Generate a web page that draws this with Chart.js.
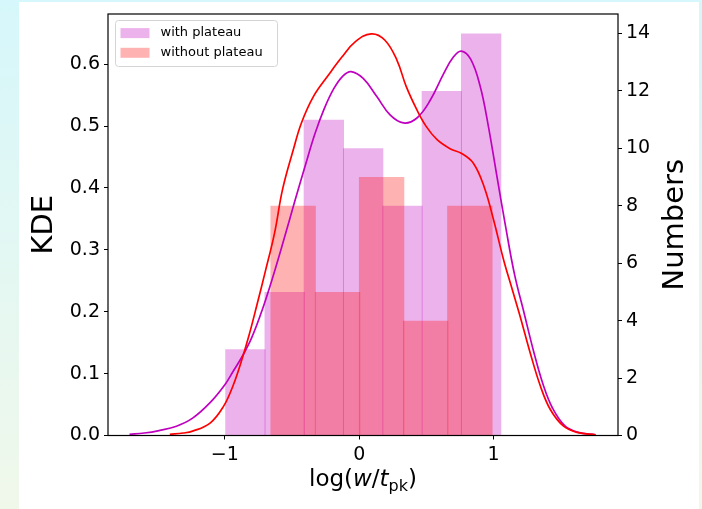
<!DOCTYPE html>
<html lang="en">
<head>
    <meta charset="UTF-8">
    <title>KDE of log(w/t_pk)</title>
    <script src="https://cdn.jsdelivr.net/npm/chart.js@4.4.1/dist/chart.umd.min.js"></script>
    <style>
        html, body {
            margin: 0;
            padding: 0;
        }

        body {
            width: 702px;
            height: 509px;
            overflow: hidden;
            position: relative;
            background: linear-gradient(to bottom, #d6f7fb, #f0f8ea);
        }

        .chart-box {
            position: absolute;
            left: 19px;
            top: 2px;
            width: 680px;
            height: 507px;
            background: #ffffff;
        }
    </style>
</head>
<body>
    <div class="chart-box">
        <canvas id="kdeChart"></canvas>
    </div>

    <script>
        // histogram bins (bin edges in log(w/t_pk), counts on the right axis)
        const withEdges = [-0.994, -0.700, -0.409, -0.117, 0.176, 0.469, 0.762, 1.054];
        const withCounts = [3, 5, 11, 10, 8, 12, 14];
        const withoutEdges = [-0.658, -0.325, 0.003, 0.331, 0.659, 0.989];
        const withoutCounts = [8, 5, 9, 4, 8];

        // KDE curves (left axis)
        const kdeWithX = [-1.71, -1.60, -1.49, -1.36, -1.24, -1.11, -1.00, -0.94, -0.87, -0.80,
            -0.72, -0.64, -0.56, -0.48, -0.40, -0.33, -0.26, -0.19, -0.12, -0.06,
            0.03, 0.13, 0.23, 0.33, 0.43, 0.53, 0.63, 0.70, 0.76, 0.83,
            0.90, 0.96, 1.03, 1.09, 1.155, 1.23, 1.30, 1.37, 1.44, 1.53,
            1.63, 1.76];
        const kdeWithY = [0.002, 0.004, 0.008, 0.015, 0.028, 0.053, 0.082, 0.103, 0.128, 0.158,
            0.204, 0.258, 0.317, 0.378, 0.437, 0.487, 0.528, 0.560, 0.581, 0.588,
            0.577, 0.548, 0.518, 0.505, 0.513, 0.542, 0.585, 0.611, 0.621, 0.608,
            0.565, 0.502, 0.413, 0.338, 0.262, 0.196, 0.135, 0.082, 0.044, 0.016,
            0.005, 0.001];

        const kdeWithoutX = [-1.41, -1.31, -1.24, -1.11, -1.01, -0.94, -0.88, -0.82, -0.76, -0.70,
            -0.63, -0.57, -0.49, -0.43, -0.34, -0.23, -0.13, -0.03, 0.09, 0.19,
            0.28, 0.35, 0.43, 0.50, 0.58, 0.68, 0.76, 0.85, 0.93, 1.00,
            1.075, 1.137, 1.199, 1.274, 1.349, 1.423, 1.522, 1.622, 1.76];
        const kdeWithoutY = [0.002, 0.004, 0.007, 0.020, 0.047, 0.080, 0.118, 0.162, 0.212, 0.264,
            0.327, 0.398, 0.462, 0.505, 0.548, 0.582, 0.611, 0.636, 0.649, 0.639,
            0.607, 0.564, 0.526, 0.499, 0.478, 0.463, 0.456, 0.440, 0.402, 0.349,
            0.284, 0.238, 0.192, 0.133, 0.080, 0.042, 0.015, 0.005, 0.001];

        function binsToBars(edges, counts) {
            return counts.map((c, i) => ({ x: (edges[i] + edges[i + 1]) / 2, y: c }));
        }

        function toPoints(xs, ys) {
            return xs.map((x, i) => ({ x: x, y: ys[i] }));
        }

        Chart.defaults.font.family = "'DejaVu Sans', sans-serif";
        Chart.defaults.color = '#000';

        const tickFont = { size: 19 };
        const tickGrid = {
            display: true,
            drawOnChartArea: false,
            drawTicks: true,
            tickLength: 4,
            offset: false,
            color: '#000',
            lineWidth: 1
        };

        // keep the plot box where the reference has it
        function fixWidth(w) {
            return s => {
                s.width = w;
                s.paddingTop = 0;
                s.paddingBottom = 0;
            };
        }

        // frame, legend box and the two custom axis labels
        const figureExtras = {
            id: 'figureExtras',
            afterDatasetsDraw(chart) {
                const { ctx, chartArea: a } = chart;
                ctx.save();
                ctx.strokeStyle = '#000';
                ctx.lineWidth = 1.2;
                ctx.strokeRect(a.left, a.top, a.right - a.left, a.bottom - a.top);

                const bars = chart.data.datasets.filter(d => d.type === 'bar');
                const bx = a.left + 7.5, by = a.top + 6.5;
                ctx.beginPath();
                ctx.roundRect(bx, by, 162, 46, 3);
                ctx.fillStyle = 'rgba(255, 255, 255, 0.8)';
                ctx.fill();
                ctx.strokeStyle = '#d4d4d4';
                ctx.lineWidth = 1;
                ctx.stroke();

                ctx.font = "13px 'DejaVu Sans'";
                ctx.textAlign = 'left';
                ctx.textBaseline = 'middle';
                bars.forEach((d, i) => {
                    const cy = by + 12.6 + i * 19.7;
                    ctx.fillStyle = d.backgroundColor;
                    ctx.fillRect(bx + 5, cy - 5, 29, 10);
                    ctx.fillStyle = '#000';
                    ctx.fillText(d.label, bx + 45, cy);
                });
                ctx.restore();
            },
            afterDraw(chart) {
                const { ctx, chartArea: a } = chart;
                ctx.save();
                ctx.fillStyle = '#000';
                ctx.textBaseline = 'alphabetic';

                // x label: log(w/t_pk) with italic w, t and subscript pk
                const parts = [
                    ['log(', '', 23, 0],
                    ['w', 'italic ', 23, 0],
                    ['/', '', 23, 0],
                    ['t', 'italic ', 23, 0],
                    ['pk', '', 16, 5],
                    [')', '', 23, 0]
                ];
                let total = 0;
                parts.forEach(p => {
                    ctx.font = p[1] + p[2] + "px 'DejaVu Sans'";
                    total += ctx.measureText(p[0]).width;
                });
                let x = (a.left + a.right) / 2 - total / 2;
                const baseY = a.bottom + 50.5;
                ctx.textAlign = 'left';
                parts.forEach(p => {
                    ctx.font = p[1] + p[2] + "px 'DejaVu Sans'";
                    ctx.fillText(p[0], x, baseY + p[3]);
                    x += ctx.measureText(p[0]).width;
                });

                // right label reads bottom to top
                ctx.translate(a.right + 64.7, (a.top + a.bottom) / 2);
                ctx.rotate(-Math.PI / 2);
                ctx.font = "29px 'DejaVu Sans'";
                ctx.textAlign = 'center';
                ctx.fillText('Numbers', 0, 0);
                ctx.restore();
            }
        };

        const ctx = document.getElementById('kdeChart').getContext('2d');
        new Chart(ctx, {
            type: 'line',
            data: {
                datasets: [
                    {
                        type: 'bar',
                        label: 'with plateau',
                        data: binsToBars(withEdges, withCounts),
                        backgroundColor: 'rgba(191, 0, 191, 0.3)',
                        borderWidth: 0,
                        barPercentage: 1.03,
                        categoryPercentage: 1,
                        grouped: false,
                        xAxisID: 'x',
                        yAxisID: 'yR',
                        order: 4
                    },
                    {
                        type: 'bar',
                        label: 'without plateau',
                        data: binsToBars(withoutEdges, withoutCounts),
                        backgroundColor: 'rgba(255, 0, 0, 0.3)',
                        borderWidth: 0,
                        barPercentage: 1.03,
                        categoryPercentage: 1,
                        grouped: false,
                        xAxisID: 'x2',
                        yAxisID: 'yR',
                        order: 3
                    },
                    {
                        type: 'line',
                        label: 'KDE with plateau',
                        data: toPoints(kdeWithX, kdeWithY),
                        borderColor: '#bf00bf',
                        borderWidth: 1.7,
                        pointRadius: 0,
                        fill: false,
                        tension: 0.4,
                        xAxisID: 'x',
                        yAxisID: 'yL',
                        order: 2
                    },
                    {
                        type: 'line',
                        label: 'KDE without plateau',
                        data: toPoints(kdeWithoutX, kdeWithoutY),
                        borderColor: '#ff0000',
                        borderWidth: 1.7,
                        pointRadius: 0,
                        fill: false,
                        tension: 0.4,
                        xAxisID: 'x',
                        yAxisID: 'yL',
                        order: 1
                    }
                ]
            },
            options: {
                responsive: true,
                maintainAspectRatio: false,
                animation: false,
                layout: { padding: { top: 12, left: 0, right: 0, bottom: 0 } },
                plugins: {
                    legend: { display: false },
                    tooltip: { enabled: false }
                },
                scales: {
                    x: {
                        type: 'linear',
                        position: 'bottom',
                        min: -1.87,
                        max: 1.927,
                        offset: false,
                        afterFit: s => {
                            s.height = 73.5;
                            s.paddingLeft = 0;
                            s.paddingRight = 0;
                        },
                        border: { display: false },
                        grid: tickGrid,
                        ticks: {
                            stepSize: 1,
                            includeBounds: false,
                            padding: 4,
                            maxRotation: 0,
                            font: tickFont,
                            callback: v => String(v).replace('-', '\u2212')
                        }
                    },
                    x2: {
                        type: 'linear',
                        display: false,
                        min: -1.87,
                        max: 1.927,
                        offset: false,
                        grid: { offset: false },
                        ticks: { stepSize: 1, includeBounds: false }
                    },
                    yL: {
                        type: 'linear',
                        position: 'left',
                        min: 0,
                        max: 0.681,
                        afterFit: fixWidth(89),
                        border: { display: false },
                        grid: tickGrid,
                        ticks: {
                            stepSize: 0.1,
                            includeBounds: false,
                            padding: 4,
                            font: tickFont,
                            callback: v => v.toFixed(1)
                        },
                        title: {
                            display: true,
                            text: 'KDE',
                            font: { size: 29 },
                            padding: { top: 8, bottom: 0 }
                        }
                    },
                    yR: {
                        type: 'linear',
                        position: 'right',
                        min: 0,
                        max: 14.68,
                        afterFit: fixWidth(81),
                        border: { display: false },
                        grid: tickGrid,
                        ticks: {
                            stepSize: 2,
                            includeBounds: false,
                            padding: 4,
                            font: tickFont
                        }
                    }
                }
            },
            plugins: [figureExtras]
        });
    </script>
</body>
</html>
